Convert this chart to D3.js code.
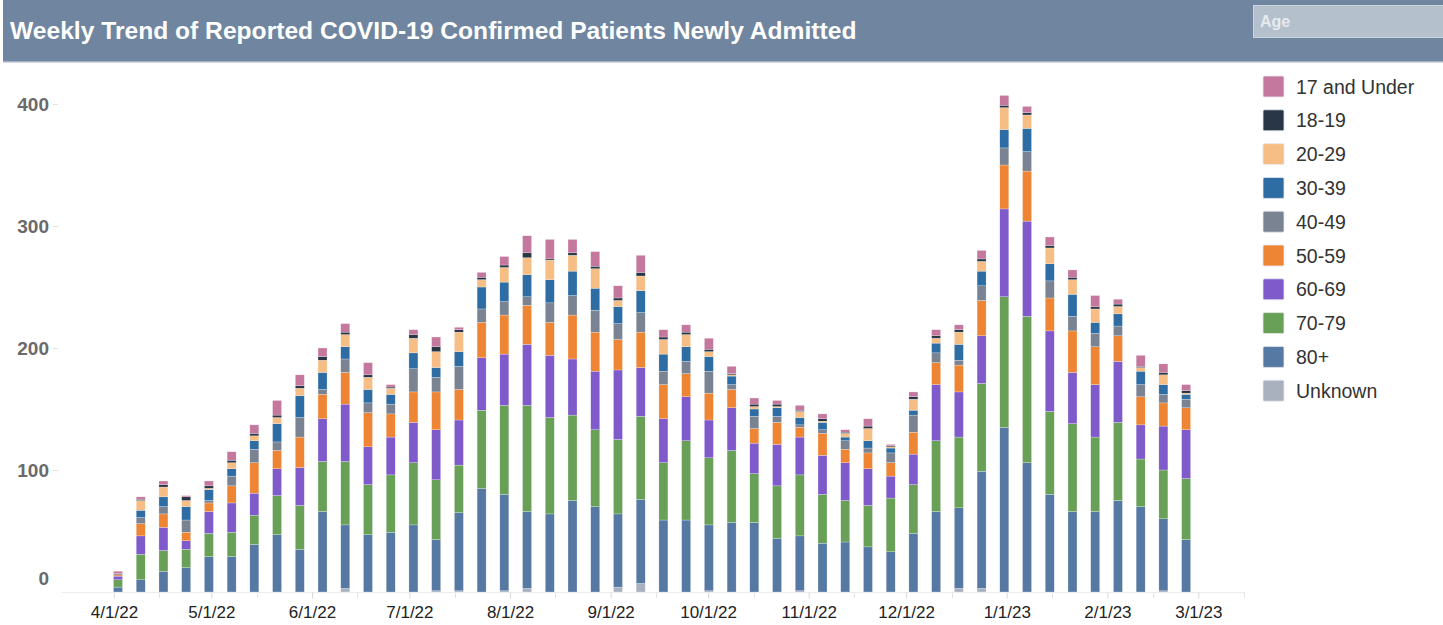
<!DOCTYPE html>
<html>
<head>
<meta charset="utf-8">
<script src="https://cdn.jsdelivr.net/npm/d3@7"></script>
<style>
  html, body { margin: 0; padding: 0; background: #fff; }
  svg { display: block; font-family: "Liberation Sans", Arial, sans-serif; }
</style>
</head>
<body>
<script>
// week (bar) dates
const weeks = [
  '2022-04-02', '2022-04-09', '2022-04-16', '2022-04-23', '2022-04-30', '2022-05-07', '2022-05-14', '2022-05-21',
  '2022-05-28', '2022-06-04', '2022-06-11', '2022-06-18', '2022-06-25', '2022-07-02', '2022-07-09', '2022-07-16',
  '2022-07-23', '2022-07-30', '2022-08-06', '2022-08-13', '2022-08-20', '2022-08-27', '2022-09-03', '2022-09-10',
  '2022-09-17', '2022-09-24', '2022-10-01', '2022-10-08', '2022-10-15', '2022-10-22', '2022-10-29', '2022-11-05',
  '2022-11-12', '2022-11-19', '2022-11-26', '2022-12-03', '2022-12-10', '2022-12-17', '2022-12-24', '2022-12-31',
  '2023-01-07', '2023-01-14', '2023-01-21', '2023-01-28', '2023-02-04', '2023-02-11', '2023-02-18', '2023-02-25'
];

// age groups, bottom of the stack first
const ageGroups = ['Unknown', '80+', '70-79', '60-69', '50-59', '40-49', '30-39', '20-29', '18-19', '17 and Under'];
const ageColors = ['#a9b1be', '#5679a3', '#68a058', '#7e5acb', '#ee8535', '#7a8391', '#2e6da4', '#f6be84', '#283646', '#c5789e'];

// newly admitted patients per week, by age group
const unknown = [0,0,0,0,0,0,0,0,0,0,3,0,0,0,1,1,0,1,3,0,0,0,4,7,0,0,1,0,0,0,1,0,0,0,0,0,0,3,3,0,0,0,0,0,0,0,1,0];
const age80 = [4,10,17,20,29,29,39,47,35,66,52,47,49,55,42,64,85,79,63,64,75,70,60,69,59,59,54,57,57,44,45,40,41,37,33,48,66,66,96,135,106,80,66,66,75,70,59,43];
const age70 = [6,21,17,15,19,20,24,32,36,41,52,41,47,51,49,39,64,73,87,79,70,63,61,68,47,65,55,59,40,43,50,40,34,34,44,40,58,58,72,107,120,68,72,61,64,39,40,50];
const age60 = [3,15,19,7,18,24,18,22,31,35,47,31,31,33,41,37,43,42,50,51,46,48,57,40,36,36,31,35,25,34,31,32,31,30,18,25,46,37,39,72,78,66,42,43,50,28,36,40];
const age50 = [1,10,11,7,7,14,25,15,25,20,26,28,19,25,31,25,29,32,32,27,36,32,25,29,28,19,22,15,12,18,8,18,11,13,11,18,18,22,29,36,41,27,34,31,21,23,19,18];
const age40 = [1,5,6,10,2,8,11,7,16,4,11,8,8,19,12,19,11,11,7,16,16,18,13,16,11,10,18,4,10,5,2,3,7,4,8,14,8,4,12,14,16,14,12,11,8,10,7,7];
const age30 = [0,6,8,11,9,6,7,15,18,14,10,11,8,13,8,12,18,16,18,19,20,18,14,18,14,12,12,7,6,7,6,6,3,6,4,4,8,13,12,15,19,14,18,9,10,11,8,4];
const age20 = [0,8,8,5,1,5,4,5,6,10,10,10,5,12,13,16,6,12,14,16,13,16,5,12,12,10,4,1,2,1,5,1,3,10,1,9,4,10,8,18,11,13,12,11,6,3,8,1];
const age18 = [0,1,2,3,2,2,2,2,2,3,2,2,1,3,4,2,2,2,4,1,2,2,2,3,2,2,2,1,2,2,1,2,1,2,1,2,2,2,2,2,2,2,2,2,2,1,2,2];
const age17 = [2,2,3,1,4,7,7,12,9,7,7,10,2,4,8,2,4,7,14,16,11,12,10,14,6,6,9,6,5,3,4,4,2,6,1,4,5,4,7,8,5,7,6,9,4,9,7,5];

const yTicks = [0, 100, 200, 300, 400];
const titleText = 'Weekly Trend of Reported COVID-19 Confirmed Patients Newly Admitted';

// build table for d3.stack
const seriesByGroup = [unknown, age80, age70, age60, age50, age40, age30, age20, age18, age17];
const parseDate = d3.timeParse('%Y-%m-%d');
const table = weeks.map((w, i) => {
  const row = { date: parseDate(w) };
  ageGroups.forEach((g, k) => { row[g] = seriesByGroup[k][i]; });
  return row;
});

const [width, height] = [1443, 625];
const svgArea = d3.select('body').append('svg')
  .attr('width', width)
  .attr('height', height);

// header bar
svgArea.append('rect')
  .attr('x', 3).attr('y', 0)
  .attr('width', width - 3).attr('height', 62)
  .attr('fill', '#7086a0');
svgArea.append('rect')
  .attr('x', 3).attr('y', 61)
  .attr('width', width - 3).attr('height', 1.5)
  .attr('fill', '#a3b2c4');
const title = svgArea.append('text')
  .attr('x', 10).attr('y', 39)
  .attr('fill', '#fff')
  .attr('font-size', 24)
  .attr('font-weight', 'bold')
  .text(titleText);
// stretch font size so the title spans the same width as the original header
const titleLen = title.node().getComputedTextLength();
title.attr('font-size', 24 * 847 / titleLen);

// "Age" filter box
svgArea.append('rect')
  .attr('x', 1253.5).attr('y', 5.5)
  .attr('width', 195).attr('height', 32)
  .attr('fill', '#b5c0cd')
  .attr('stroke', '#cdd5de');
svgArea.append('text')
  .attr('x', 1260).attr('y', 27)
  .attr('fill', '#e6eaef')
  .attr('font-size', 16)
  .attr('font-weight', 'bold')
  .text('Age');

// scales
const x = d3.scaleTime()
  .domain([new Date(2022, 2, 16), new Date(2023, 2, 16)])
  .range([62, 1247]);
const y = d3.scaleLinear()
  .domain([0, 400])
  .range([592, 104]);
const color = d3.scaleOrdinal().domain(ageGroups).range(ageColors);

// x axis: baseline, month ticks with labels, mid-month ticks
svgArea.append('line')
  .attr('x1', x.range()[0]).attr('x2', x.range()[1] - 2)
  .attr('y1', y(0) + 0.5).attr('y2', y(0) + 0.5)
  .attr('stroke', '#ececec');

const monthTicks = d3.timeMonth.range(new Date(2022, 3, 1), new Date(2023, 2, 2));
const midTicks = monthTicks.map(d => d3.timeDay.offset(d, 14)).filter(d => d < x.domain()[1]);

const xAxis = svgArea.append('g')
  .attr('transform', `translate(0,${y(0) + 0.5})`)
  .call(d3.axisBottom(x)
    .tickValues(monthTicks)
    .tickFormat(d3.timeFormat('%-m/%-d/%y'))
    .tickSize(6)
    .tickPadding(7));
xAxis.select('.domain').remove();
xAxis.selectAll('line').attr('stroke', '#d9d9d9');
xAxis.selectAll('text')
  .attr('fill', '#222')
  .attr('font-size', 17)
  .attr('font-family', '"Liberation Sans", Arial, sans-serif');

svgArea.append('g')
  .selectAll('line')
  .data(midTicks)
  .enter()
  .append('line')
  .attr('x1', d => Math.round(x(d)) + 0.5).attr('x2', d => Math.round(x(d)) + 0.5)
  .attr('y1', y(0) + 0.5).attr('y2', y(0) + 6)
  .attr('stroke', '#e3e3e3');

// y axis: labels and short ticks only
const yAxis = svgArea.append('g')
  .attr('transform', 'translate(58,0)')
  .call(d3.axisLeft(y).tickValues(yTicks).tickSize(5).tickPadding(4));
yAxis.select('.domain').remove();
yAxis.selectAll('line').attr('stroke', '#e0e0e0');
yAxis.selectAll('.tick').filter(d => d === 0).select('line').remove();
yAxis.selectAll('.tick').filter(d => d === 0).attr('transform', `translate(0,${y(0) - 13})`);
yAxis.selectAll('text')
  .attr('fill', '#6a6a6a')
  .attr('font-size', 19)
  .attr('font-weight', 'bold')
  .attr('font-family', '"Liberation Sans", Arial, sans-serif');

// stacked bars
const stacked = d3.stack().keys(ageGroups)(table);
const barWidth = 9;

svgArea.append('g')
  .selectAll('g')
  .data(stacked)
  .enter()
  .append('g')
  .attr('fill', d => color(d.key))
  .selectAll('rect')
  .data(d => d.filter(p => p[1] > p[0]))
  .enter()
  .append('rect')
  .attr('x', d => x(d.data.date) - barWidth / 2 + 0.8)
  .attr('y', d => y(d[1]))
  .attr('width', barWidth)
  .attr('height', d => y(d[0]) - y(d[1]))
  .attr('stroke', '#fff')
  .attr('stroke-width', 0.4)
  .attr('stroke-opacity', 0.6);

// legend, top of stack first
const legendItems = ageGroups.slice().reverse();
const legend = svgArea.append('g')
  .attr('transform', 'translate(1263,76)')
  .selectAll('g')
  .data(legendItems)
  .enter()
  .append('g')
  .attr('transform', (d, i) => `translate(0,${i * 33.8})`);

legend.append('rect')
  .attr('width', 21).attr('height', 21)
  .attr('rx', 1.5)
  .attr('fill', d => color(d))
  .attr('stroke', '#e8e8ee')
  .attr('stroke-width', 0.8);

legend.append('text')
  .attr('x', 33).attr('y', 17.5)
  .attr('fill', '#333')
  .attr('font-size', 19.5)
  .text(d => d);
</script>
</body>
</html>
